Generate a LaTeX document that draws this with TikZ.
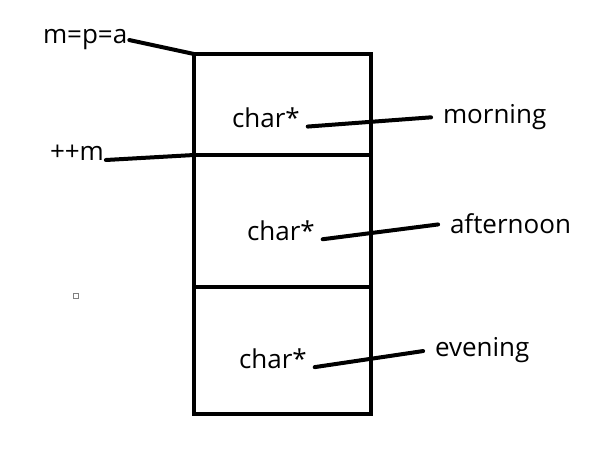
\documentclass[tikz,border=0pt]{standalone}
\usepackage{fontspec}
\setmainfont{Open Sans}
\usetikzlibrary{positioning}

\begin{document}
\begin{tikzpicture}[x=1pt,y=-1pt,line width=4pt,line cap=round,
  cell node/.style={rectangle,draw,inner sep=0pt,outer sep=0pt,minimum width=177pt},
  txt node/.style={anchor=base west,inner sep=0pt,font=\fontsize{26}{30}\selectfont},
  link/.style={shorten <=6pt,shorten >=10pt}]
  \useasboundingbox (0,0) rectangle (604,460);
  \node[cell node, minimum height=101pt] (cell1) at (282.5,104.5) {};
  \node[cell node, minimum height=132pt, below=0pt of cell1] (cell2) {};
  \node[cell node, minimum height=127pt, below=0pt of cell2] (cell3) {};
  \node[txt node] (ptr1) at (230,127) {char*};
  \node[txt node] (ptr2) at (245,240) {char*};
  \node[txt node] (ptr3) at (237,368) {char*};
  \node[txt node] (morning) at (441,123) {morning};
  \node[txt node] (afternoon) at (448,233) {afternoon};
  \node[txt node] (evening) at (433,356) {evening};
  \node[txt node] (mpa) at (41,44) {m=p=a};
  \node[txt node] (incm) at (48,160) {++m};
  \node[draw=gray,line width=1pt,inner sep=0pt,minimum size=5pt] (dot) at (76,296) {};
  \path
    (mpa.east) edge (cell1.north west)
    (incm.base east) edge (cell1.south west);
  \path[link]
    (ptr1.base east) edge (morning.west)
    (ptr2.base east) edge (afternoon.west)
    (ptr3.base east) edge (evening.west);
\end{tikzpicture}
\end{document}
